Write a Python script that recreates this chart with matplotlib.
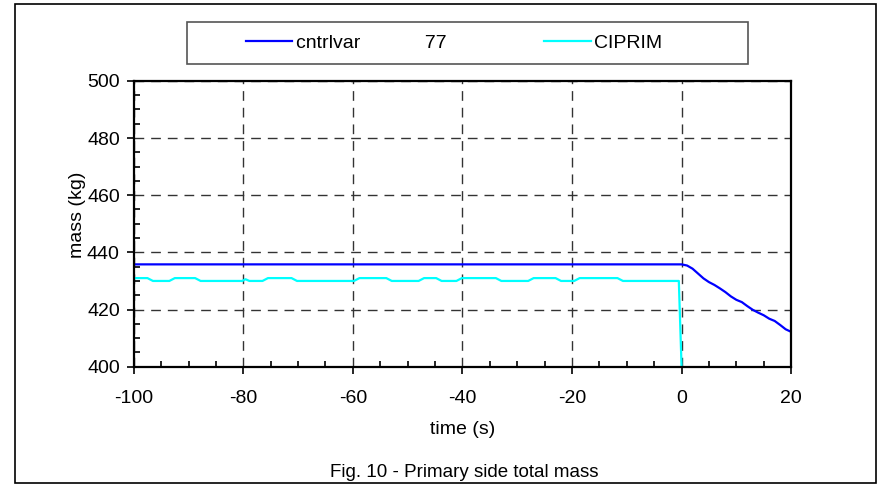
import numpy as np
import matplotlib.pyplot as plt
from matplotlib.patches import Rectangle
from matplotlib.ticker import MultipleLocator

plt.rcParams['font.family'] = ['Liberation Sans', 'DejaVu Sans']
plt.rcParams['axes.unicode_minus'] = False

# data
blue_t = [-100, 0, 1, 2, 3, 4, 5, 6, 7, 8, 9, 10, 11, 12, 13, 14, 15, 16, 17, 18, 19, 20]
blue_v = [435.8, 435.8, 435.4, 434.3, 432.6, 430.9, 429.6, 428.6, 427.4, 426.1, 424.6,
          423.4, 422.6, 421.2, 419.9, 418.9, 418.0, 416.8, 416.0, 414.6, 413.1, 412.2]

cyan_t = [-100, -97.5, -96.5, -93.5, -92.5, -88.8, -87.8, -80.2, -79.6, -78.9, -76.5, -75.5,
          -71.2, -70.2, -59.8, -58.8, -53.9, -52.9, -48, -47, -44.8, -43.8, -41.1, -40.1,
          -33.9, -32.9, -28, -27, -23, -22, -19.6, -18.6, -11.7, -10.7, -0.5, 0]
cyan_v = [431, 431, 430, 430, 431, 431, 430, 430, 430.6, 430, 430, 431,
          431, 430, 430, 431, 431, 430, 430, 431, 431, 430, 430, 431,
          431, 430, 430, 431, 431, 430, 430, 431, 431, 430, 430, 400]

label_blue = 'cntrlvar' + ' ' * 12 + '77'
label_cyan = 'CIPRIM'

fig = plt.figure(figsize=(8.8, 4.87), dpi=100)
ax = fig.add_axes([0.152, 0.247, 0.747, 0.587])

l1, = ax.plot(blue_t, blue_v, color='#0000FF', lw=1.6, label=label_blue)
l2, = ax.plot(cyan_t, cyan_v, color='#00FFFF', lw=1.6, label=label_cyan)

ax.set_xlim(-100, 20)
ax.set_ylim(400, 500)
ax.xaxis.set_major_locator(MultipleLocator(20))
ax.yaxis.set_major_locator(MultipleLocator(20))
ax.xaxis.set_minor_locator(MultipleLocator(5))
ax.yaxis.set_minor_locator(MultipleLocator(5))
ax.tick_params(which='major', direction='out', length=5, width=1.2, labelsize=14, pad=5)
ax.tick_params(axis='x', which='major', pad=12)
ax.tick_params(which='minor', direction='in', length=4, width=1.2)
ax.grid(which='major', color='#333333', linestyle=(0, (7, 5)), lw=1)
for s in ax.spines.values():
    s.set_linewidth(1.6)
    s.set_color('black')

ax.set_xlabel('time (s)', fontsize=14, labelpad=10)
ax.set_ylabel('mass (kg)', fontsize=14)
ax.yaxis.set_label_coords(-0.072, 0.53)

fig.text(0.527, 0.03, 'Fig. 10 - Primary side total mass', fontsize=13.5, ha='center', va='center')

# outer frame
fig.add_artist(Rectangle((0.017, 0.008), 0.978, 0.984, transform=fig.transFigure,
                         fill=False, ec='black', lw=1.2))
# legend frame
fig.add_artist(Rectangle((0.2125, 0.8686), 0.6375, 0.0862, transform=fig.transFigure,
                         fill=False, ec='#555555', lw=1.2))
fig.legend(handles=[l1, l2], loc='center left', bbox_to_anchor=(0.279, 0.912),
           ncol=2, frameon=False, fontsize=14, handlelength=2.4, handletextpad=0.2,
           columnspacing=5.0, borderpad=0, borderaxespad=0)

plt.savefig('out.png', dpi=100)
